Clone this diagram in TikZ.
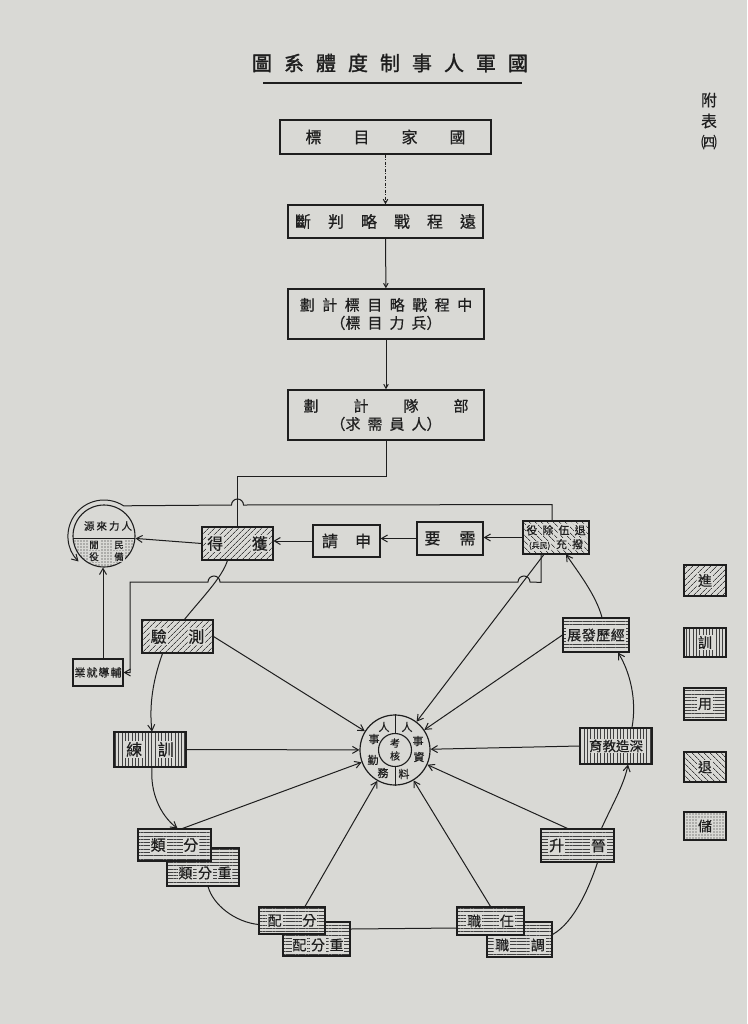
\documentclass[tikz,border=0pt]{standalone}
\usepackage{fontspec}
\setmainfont{Noto Sans CJK TC}[FakeBold=0.5]
\newfontfamily\titlefont{Noto Sans CJK TC}[FakeBold=1.5]
\usetikzlibrary{arrows.meta,patterns.meta,calc}
\definecolor{paper}{RGB}{217,217,213}
\definecolor{ink}{RGB}{30,30,30}
\newcommand\pc[1]{{\setlength\fboxsep{0.8pt}\colorbox{paper}{#1}}}
\newcommand\fs[1]{\fontsize{#1}{#1}\selectfont}
\tikzset{
  every node/.style={text=ink, inner sep=0pt},
  tbx/.style={draw=ink, line width=1.5pt, fill=paper},
  bx/.style={draw=ink, line width=1.1pt, fill=paper},
  pjin/.style={draw=ink, line width=1.1pt, preaction={fill=paper}, pattern={Lines[angle=45,distance=4pt,line width=.8pt]}, pattern color=ink!85},
  pxun/.style={draw=ink, line width=1.1pt, preaction={fill=paper}, pattern={Lines[angle=90,distance=3.3pt,line width=.7pt]}, pattern color=ink!85},
  pyong/.style={draw=ink, line width=1.1pt, preaction={fill=paper}, pattern={Lines[angle=0,distance=3.3pt,line width=.7pt]}, pattern color=ink!85},
  ptui/.style={draw=ink, line width=1.1pt, preaction={fill=paper}, pattern={Lines[angle=-45,distance=4pt,line width=.8pt]}, pattern color=ink!85},
  pchu/.style={draw=ink, line width=1.1pt, preaction={fill=paper}, pattern={Dots[distance=3pt,radius=.6pt]}, pattern color=ink},
  cn/.style={draw=ink, line width=1pt},
  arr/.style={cn, -{Straight Barb[length=6pt,width=7pt]}},
  sarr/.style={cn, -{Straight Barb[length=4pt,width=4.5pt]}},
}
\begin{document}
\begin{tikzpicture}[x=1pt,y=-1pt]
\useasboundingbox (0,0) rectangle (747,1024);
\fill[paper] (0,0) rectangle (747,1024);

% title
\node[font=\titlefont\fs{20}] (title) at (390,63) {圖\hspace{12pt}系\hspace{12pt}體\hspace{12pt}度\hspace{12pt}制\hspace{12pt}事\hspace{12pt}人\hspace{12pt}軍\hspace{12pt}國};
\draw[ink, line width=1.8pt] (263,83) -- (522,83);
\node[font=\fontsize{16}{21}\selectfont, align=center] (fubiao) at (709,121) {附\\表\\{\fs{16}㈣}};

% top chain
\node[tbx, minimum width=211pt, minimum height=34pt, font=\fs{16}] (nat) at (385.5,137) {標\hspace{32pt}目\hspace{32pt}家\hspace{32pt}國};
\node[tbx, minimum width=195pt, minimum height=33pt, font=\fs{16}] (far) at (385.5,221.5) {斷\hspace{17pt}判\hspace{17pt}略\hspace{17pt}戰\hspace{17pt}程\hspace{17pt}遠};
\node[tbx, minimum width=196pt, minimum height=50pt, align=center, font=\fontsize{15}{18}\selectfont] (mid) at (386,314) {劃\hspace{7.5pt}計\hspace{7.5pt}標\hspace{7.5pt}目\hspace{7.5pt}略\hspace{7.5pt}戰\hspace{7.5pt}程\hspace{7.5pt}中\\（標\hspace{7pt}目\hspace{7pt}力\hspace{7pt}兵）};
\node[tbx, minimum width=196pt, minimum height=50pt, align=center, font=\fontsize{15}{18}\selectfont] (unit) at (386,415) {劃\hspace{35pt}計\hspace{35pt}隊\hspace{35pt}部\\（求\hspace{7pt}需\hspace{7pt}員\hspace{7pt}人）};

% upper flow row
\node[pjin, minimum width=71pt, minimum height=33pt, font=\fs{16}] (huode) at (237.5,543.5) {\pc{得}\hspace{27pt}\pc{獲}};
\node[bx, minimum width=67pt, minimum height=32pt, font=\fs{16}] (shenqing) at (346.5,541) {請\hspace{17pt}申};
\node[bx, minimum width=66pt, minimum height=33pt, font=\fs{16}] (xuyao) at (450,538.5) {要\hspace{19pt}需};
\node[ptui, minimum width=66pt, minimum height=33pt, align=center, font=\fontsize{11}{14}\selectfont] (tuiwu) at (556,537.5) {\pc{役}\hspace{3.5pt}\pc{除}\hspace{3.5pt}\pc{伍}\hspace{3.5pt}\pc{退}\\\pc{\fs{8}(兵民)}\hspace{4pt}\pc{充}\hspace{3.5pt}\pc{撥}};

% manpower source circle
\node[circle, draw=ink, line width=1.1pt, fill=paper, minimum size=62pt] (source) at (104,536) {};
\begin{scope}
  \clip (source.center) circle[radius=30.4pt];
  \fill[pattern={Dots[distance=3pt,radius=.6pt]}, pattern color=ink] ($(source.center)+(-32pt,-2pt)$) rectangle ($(source.center)+(32pt,-33pt)$);
\end{scope}
\draw[cn] ($(source.center)+(-31pt,-2pt)$) -- ($(source.center)+(31pt,-2pt)$);
\node[font=\fs{10.5}] (srct) at (108,526) {源\hspace{2pt}來\hspace{2pt}力\hspace{2pt}人};
\node[font=\fontsize{9.5}{12}\selectfont, align=center] (srcl) at (94,551) {\pc{閒}\\\pc{役}};
\node[font=\fontsize{9.5}{12}\selectfont, align=center] (srcr) at (119,551) {\pc{民}\\\pc{備}};

\node[bx, minimum width=50pt, minimum height=27pt, font=\fs{11}] (fudao) at (98,672.5) {業\hspace{1pt}就\hspace{1pt}導\hspace{1pt}輔};

% cycle boxes
\node[pjin, minimum width=71pt, minimum height=33pt, font=\fs{16}] (ceyan) at (177.5,636.5) {\pc{驗}\hspace{20pt}\pc{測}};
\node[pxun, minimum width=72pt, minimum height=35pt, font=\fs{16}] (xunlian) at (150,749.5) {\pc{練}\hspace{14pt}\pc{訓}};
\node[pyong, minimum width=72pt, minimum height=38pt] (zfenlei) at (203,867) {};
\node[font=\fs{14}] (zfenleit) at (205,873) {\pc{類}\hspace{4pt}\pc{分}\hspace{4pt}\pc{重}};
\node[pyong, minimum width=73pt, minimum height=32pt, font=\fs{15}] (fenlei) at (174.5,845) {\pc{類}\hspace{16pt}\pc{分}};
\node[pyong, minimum width=67pt, minimum height=34pt] (zfenpei) at (316.5,939) {};
\node[font=\fs{14}] (zfenpeit) at (318,945) {\pc{配}\hspace{3pt}\pc{分}\hspace{3pt}\pc{重}};
\node[pyong, minimum width=66pt, minimum height=27pt, font=\fs{14}] (fenpei) at (292,920.5) {\pc{配}\hspace{19pt}\pc{分}};
\node[pyong, minimum width=65pt, minimum height=35pt] (diaozhi) at (519.5,939.5) {};
\node[font=\fs{14}] (diaozhit) at (520,945) {\pc{職}\hspace{20pt}\pc{調}};
\node[pyong, minimum width=67pt, minimum height=28pt, font=\fs{14}] (renzhi) at (490.5,921) {\pc{職}\hspace{17pt}\pc{任}};
\node[pyong, minimum width=73pt, minimum height=33pt, font=\fs{15}] (jinsheng) at (577.5,845.5) {\pc{升}\hspace{25pt}\pc{晉}};
\node[pxun, minimum width=72pt, minimum height=36pt, font=\fs{13.5}] (shenzao) at (616,746) {\pc{育\kern0pt 教\kern0pt 造\kern0pt 深}};
\node[pyong, minimum width=66pt, minimum height=34pt, font=\fs{14}] (jingli) at (596,635) {\pc{展\kern.5pt 發\kern.5pt 歷\kern.5pt 經}};

% hub
\node[circle, draw=ink, line width=1.2pt, fill=paper, minimum size=70pt] (hub) at (395,750) {};
\node[circle, draw=ink, line width=1.1pt, minimum size=33pt] (core) at (395,750) {};
\draw[cn] (hub.north) -- (core.north);
\draw[cn] (core.south) -- (hub.south);
\node[font=\fs{11}] (hl1) at (384,727) {人};
\node[font=\fs{11}] (hl2) at (374,739) {事};
\node[font=\fs{11}] (hl3) at (373,760) {勤};
\node[font=\fs{11}] (hl4) at (383,773) {務};
\node[font=\fs{11}] (hr1) at (407,727) {人};
\node[font=\fs{11}] (hr2) at (418,741) {事};
\node[font=\fs{11}] (hr3) at (419,757) {資};
\node[font=\fs{11}] (hr4) at (404,774) {料};
\node[font=\fs{10}] (hc1) at (395,743) {考};
\node[font=\fs{10}] (hc2) at (395,756) {核};

% legend
\node[pjin, minimum width=42pt, minimum height=31pt, font=\fs{14}] (lg1) at (705,580.5) {\pc{進}};
\node[pxun, minimum width=42pt, minimum height=29pt, font=\fs{14}] (lg2) at (705,642.5) {\pc{訓}};
\node[pyong, minimum width=42pt, minimum height=32pt, font=\fs{14}] (lg3) at (705,704) {\pc{用}};
\node[ptui, minimum width=42pt, minimum height=30pt, font=\fs{14}] (lg4) at (705,767) {\pc{退}};
\node[pchu, minimum width=42pt, minimum height=28pt, font=\fs{14}] (lg5) at (705,826) {\pc{儲}};

% connectors: top chain
\draw[sarr, dash pattern=on 3pt off 1.5pt on 1pt off 1.5pt] (nat) -- (far);
\draw[sarr] (far) -- (mid);
\draw[sarr] (mid) -- (unit);
\coordinate (j1) at (237.5,476);
\draw[cn] (unit.south) |- (j1) -- (huode.north);

% line from retirement box over the top into the source circle
\draw[arr] ([xshift=-4pt]tuiwu.north) -- ++(0,-16) -- (243.5,505) arc[start angle=0,end angle=180,radius=6pt] -- ($(source.center)+(57:36pt)$) arc[start angle=57,end angle=225,radius=36pt];
% line from retirement box to employment guidance
\draw[arr] ([xshift=-15pt]tuiwu.south) -- ++(0,28) -- (530,582) arc[start angle=0,end angle=180,radius=6pt] -- (220,582) arc[start angle=0,end angle=180,radius=6pt] -- (130,582) |- (fudao.east);
\draw[arr] ([xshift=5pt]fudao.north) -- ([xshift=-1pt]source.south);

% flow row
\draw[arr] (tuiwu.west) -- (xuyao.east |- tuiwu.west);
\draw[arr] (xuyao.west) -- (shenqing.east |- xuyao.west);
\draw[arr] (shenqing.west) -- (huode.east |- shenqing.west);
\draw[arr] (huode.west) -- (source);

% cycle
\draw[cn] ([xshift=-10pt]huode.south) .. controls (222,578) and (200,600) .. ([xshift=7pt]ceyan.north);
\draw[arr] ([xshift=-15pt]ceyan.south) .. controls (153,680) and (149,705) .. ([xshift=2pt]xunlian.north);
\draw[arr] ([xshift=2pt]xunlian.south) .. controls (150,792) and (160,815) .. ([xshift=3pt]fenlei.north);
\draw[cn] ([xshift=5pt]zfenlei.south) .. controls (213,905) and (235,922) .. ([yshift=-4pt]fenpei.west);
\draw[cn] ([yshift=10pt]zfenpei.east) -- ([yshift=-7pt]renzhi.west);
\draw[cn] ([yshift=5pt]diaozhi.east) .. controls (575,922) and (590,885) .. ([xshift=20pt]jinsheng.south);
\draw[arr] ([xshift=24pt]jinsheng.north) .. controls (612,805) and (624,785) .. ([xshift=12pt]shenzao.south);
\draw[arr] ([xshift=16pt]shenzao.north) .. controls (637,700) and (630,672) .. ([xshift=22pt]jingli.south);
\draw[arr] ([xshift=6pt]jingli.north) .. controls (596,595) and (578,572) .. ([xshift=10pt]tuiwu.south);

% spokes into hub
\draw[arr] (ceyan.east) -- (hub);
\draw[arr] (xunlian.east) -- (hub);
\draw[arr] ([xshift=8pt]fenlei.north) -- (hub);
\draw[arr] ([xshift=13pt]fenpei.north) -- (hub);
\draw[arr] (renzhi.north) -- (hub);
\draw[arr] ([xshift=-10pt]jinsheng.north) -- (hub);
\draw[arr] (shenzao.west) -- (hub);
\draw[arr] (jingli.west) -- (hub);
\draw[arr] ([xshift=-12pt]tuiwu.south) -- (hub);
\end{tikzpicture}
\end{document}
